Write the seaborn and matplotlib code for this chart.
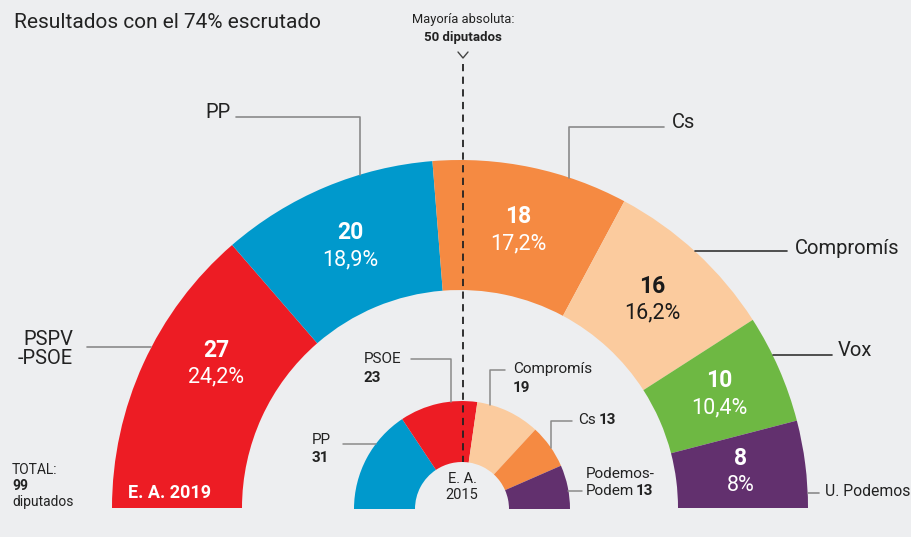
import numpy as np
import matplotlib.pyplot as plt
import seaborn as sns

# 2019 results (outer ring)
parties_2019 = ['PSPV\n-PSOE', 'PP', 'Cs', 'Compromís', 'Vox', 'U. Podemos']
seats_2019 = [27, 20, 18, 16, 10, 8]
pct_2019 = ['24,2%', '18,9%', '17,2%', '16,2%', '10,4%', '8%']
colors_2019 = ['#ED1C24', '#0099CC', '#F58A42', '#FBCB9E', '#6EB843', '#62306E']

# 2015 results (inner ring)
parties_2015 = ['PP', 'PSOE', 'Compromís', 'Cs', 'Podemos-\nPodem']
seats_2015 = [31, 23, 19, 13, 13]
colors_2015 = ['#0099CC', '#ED1C24', '#FBCB9E', '#F58A42', '#62306E']

total = 99
majority = 50

sns.set_theme(style='white')
plt.rcParams['font.family'] = ['Roboto', 'DejaVu Sans']
BG = '#EDEEF0'

fig = plt.figure(figsize=(9.11, 5.37), dpi=100, facecolor=BG)
ax = fig.add_axes([0, 0, 1, 1])
ax.set_facecolor(BG)

H = 537
def Y(y):
    return H - y

# geometry (pixels)
cx1, cy1, R1, W1 = 460, Y(508), 348, 130
cx2, cy2, R2, W2 = 462, Y(509), 108, 61

ax.pie(seats_2019 + [sum(seats_2019)], startangle=180, counterclock=False,
       radius=R1, center=(cx1, cy1), colors=colors_2019 + ['none'],
       wedgeprops=dict(width=W1, linewidth=0))
ax.pie(seats_2015 + [sum(seats_2015)], startangle=180, counterclock=False,
       radius=R2, center=(cx2, cy2), colors=colors_2015 + ['none'],
       wedgeprops=dict(width=W2, linewidth=0))

ax.set_xlim(0, 911)
ax.set_ylim(0, 537)
ax.set_aspect('equal')
ax.axis('off')

# numbers inside outer segments
cum = np.cumsum([0] + seats_2019)
nudge = [-6, 0, 0, 0, 0, 0]
rmid = 283
for i, (s, p) in enumerate(zip(seats_2019, pct_2019)):
    a = np.deg2rad(180 - (cum[i] + s / 2) / total * 180 + nudge[i])
    x = cx1 + rmid * np.cos(a)
    y = cy1 + rmid * np.sin(a)
    tc = '#1a1a1a' if colors_2019[i] == '#FBCB9E' else 'white'
    ax.text(x, y + 14, str(s), ha='center', va='center', fontsize=16.5,
            fontweight='bold', color=tc)
    ax.text(x, y - 13, p, ha='center', va='center', fontsize=15.5, color=tc)

def arc_x(cx, cy, R, y, side):
    return cx + side * np.sqrt(R ** 2 - (y - cy) ** 2)

def arc_y(cx, cy, R, x):
    return cy + np.sqrt(R ** 2 - (x - cx) ** 2)

grey = '#8a8a8a'
dark = '#333333'
tcol = '#222222'
fo = 14.5

# outer labels
yl = Y(347)
ax.plot([87, arc_x(cx1, cy1, R1, yl, -1)], [yl, yl], color=grey, lw=1.2)
ax.text(73, Y(349), 'PSPV\n-PSOE', ha='right', va='center', fontsize=fo,
        color=tcol, linespacing=0.95)

yl, xl = Y(117), 360
ax.plot([236, xl, xl], [yl, yl, arc_y(cx1, cy1, R1, xl)], color=grey, lw=1.2)
ax.text(231, Y(113), 'PP', ha='right', va='center', fontsize=fo, color=tcol)

yl, xl = Y(127), 569
ax.plot([664, xl, xl], [yl, yl, arc_y(cx1, cy1, R1, xl)], color=grey, lw=1.2)
ax.text(672, Y(122), 'Cs', ha='left', va='center', fontsize=fo, color=tcol)

yl = Y(251)
ax.plot([arc_x(cx1, cy1, R1, yl, 1), 787], [yl, yl], color=dark, lw=1.2)
ax.text(795, Y(248), 'Compromís', ha='left', va='center', fontsize=fo, color=tcol)

yl = Y(355)
ax.plot([arc_x(cx1, cy1, R1, yl, 1), 832], [yl, yl], color=dark, lw=1.2)
ax.text(838, Y(351), 'Vox', ha='left', va='center', fontsize=fo, color=tcol)

yl = Y(493)
ax.plot([cx1 + R1, 819], [yl, yl], color=grey, lw=1.2)
ax.text(825, Y(491), 'U. Podemos', ha='left', va='center', fontsize=11.3, color=tcol)

# inner labels
fs = 11
yl = Y(444)
ax.plot([343, arc_x(cx2, cy2, R2, yl, -1)], [yl, yl], color=grey, lw=1.1)
ax.text(312, Y(440), 'PP', ha='left', va='center', fontsize=fs, color=tcol)
ax.text(312, Y(458), '31', ha='left', va='center', fontsize=fs, fontweight='bold', color=tcol)

yl, xl = Y(359), 451
ax.plot([411, xl, xl], [yl, yl, arc_y(cx2, cy2, R2, xl)], color=grey, lw=1.1)
ax.text(364, Y(359), 'PSOE', ha='left', va='center', fontsize=fs, color=tcol)
ax.text(364, Y(378), '23', ha='left', va='center', fontsize=fs, fontweight='bold', color=tcol)

yl, xl = Y(370), 490
ax.plot([505, xl, xl], [yl, yl, arc_y(cx2, cy2, R2, xl)], color=grey, lw=1.1)
ax.text(513, Y(369), 'Compromís', ha='left', va='center', fontsize=fs, color=tcol)
ax.text(513, Y(388), '19', ha='left', va='center', fontsize=fs, fontweight='bold', color=tcol)

yl, xl = Y(421), 551
ax.plot([572, xl, xl], [yl, yl, arc_y(cx2, cy2, R2, xl)], color=grey, lw=1.1)
ax.text(578, Y(420), 'Cs', ha='left', va='center', fontsize=fs, color=tcol)
ax.text(599, Y(420), '13', ha='left', va='center', fontsize=fs, fontweight='bold', color=tcol)

yl = Y(491)
ax.plot([arc_x(cx2, cy2, R2, yl, 1), 582], [yl, yl], color=grey, lw=1.1)
ax.text(586, Y(474), 'Podemos-', ha='left', va='center', fontsize=fs, color=tcol)
ax.text(586, Y(491), 'Podem', ha='left', va='center', fontsize=fs, color=tcol)
ax.text(636, Y(491), '13', ha='left', va='center', fontsize=fs, fontweight='bold', color=tcol)

ax.text(cx2, Y(487), 'E. A.\n2015', ha='center', va='center', fontsize=10.5,
        color=tcol, linespacing=1.2)

# majority line
xm = 463
ax.plot([xm, xm], [Y(64), Y(462)], color='#222222', lw=1.3, ls=(0, (4, 3)))
ax.plot([xm - 5, xm, xm + 5], [Y(52), Y(58), Y(52)], color='#444444', lw=1)
ax.text(xm, Y(20), 'Mayoría absoluta:', ha='center', va='center', fontsize=9.3, color=tcol)
ax.text(xm, Y(38), f'{majority} diputados', ha='center', va='center', fontsize=9.5,
        fontweight='bold', color=tcol)

# title and totals
ax.text(14, Y(22), 'Resultados con el 74% escrutado', ha='left', va='center',
        fontsize=15, color=tcol)
ax.text(12, Y(470), 'TOTAL:', ha='left', va='center', fontsize=10, color=tcol)
ax.text(12, Y(486), str(total), ha='left', va='center', fontsize=10, fontweight='bold', color=tcol)
ax.text(12, Y(502), 'diputados', ha='left', va='center', fontsize=10, color=tcol)
ax.text(128, Y(493), 'E. A. 2019', ha='left', va='center', fontsize=13,
        fontweight='bold', color='white')

fig.savefig('out.png', dpi=100, facecolor=BG)
